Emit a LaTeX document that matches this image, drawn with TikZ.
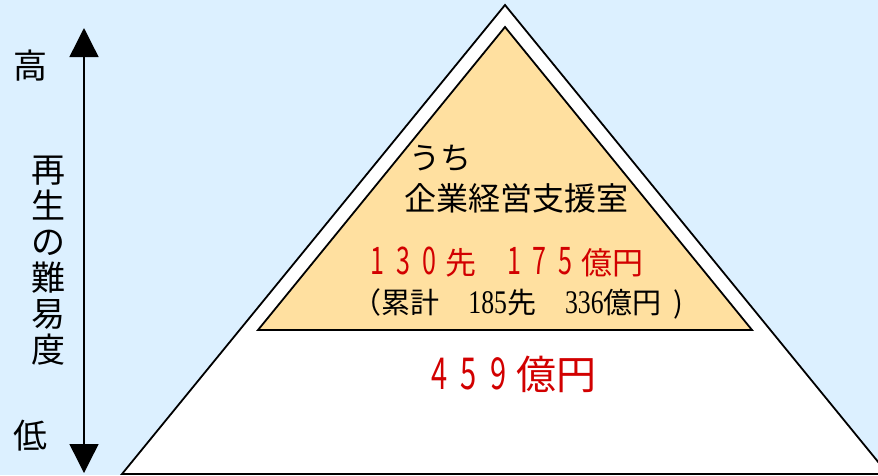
\documentclass[tikz,border=0pt]{standalone}
\usepackage{fontspec}
\setmainfont{Noto Sans CJK JP}
\newfontfamily\numfont[FakeStretch=0.78]{Liberation Serif}
\newfontfamily\tallfont[FakeStretch=0.66]{Noto Sans CJK JP}
\usepackage{tikz}
\usetikzlibrary{arrows.meta}
\definecolor{skyback}{RGB}{220,240,255}
\definecolor{peach}{RGB}{255,224,160}
\definecolor{amountred}{RGB}{210,0,0}
\newcommand{\tdig}[2]{{\tallfont\fontsize{#1}{#1}\selectfont #2}}

\begin{document}
\begin{tikzpicture}[x=1pt,y=-1pt]
\tikzstyle{edge}=[draw=black,line width=1.8pt,line join=miter]
\tikzstyle{every node}=[inner sep=0pt,anchor=center]
\tikzstyle{redtext}=[text=amountred]
\tikzstyle{bigtip}=[line width=1.4pt,{Triangle[width=29pt,length=29pt]}-{Triangle[width=29pt,length=29pt]}]
\useasboundingbox (0,0) rectangle (878,475);
\fill[skyback] (0,0) rectangle (878,475);
\begin{scope}
\clip (0,0) rectangle (878,475);
\coordinate (top) at (505,5);
\coordinate (bl) at (122,474);
\coordinate (br) at (888,474);
\filldraw[edge,fill=white] (top) -- (br) -- (bl) -- cycle;
\end{scope}
\coordinate (itop) at (505,27);
\coordinate (ibl) at (258,330);
\coordinate (ibr) at (752,330);
\filldraw[edge,fill=peach] (itop) -- (ibr) -- (ibl) -- cycle;
\coordinate (hi) at (84,28);
\coordinate (lo) at (84,473);
\draw[bigtip] (hi) -- (lo);
\node[font=\fontsize{34}{36}\selectfont] (high) at (30,66) {高};
\node[font=\fontsize{34}{36}\selectfont] (low) at (30,436) {低};
\node[font=\fontsize{34}{36}\selectfont,align=center] (scale) at (48,261) {再\\生\\の\\難\\易\\度};
\node[font=\fontsize{31}{31}\selectfont] (uchi) at (440,158) {うち};
\node[font=\fontsize{32}{32}\selectfont] (dept) at (516,198) {企業経営支援室};
\node[redtext,font=\fontsize{31}{31}\selectfont] (year) at (507,262) {\tdig{38}{1}\hspace{12pt}\tdig{38}{3}\hspace{12pt}\tdig{38}{0}\hspace{9pt}先　\tdig{38}{1}\hspace{12pt}\tdig{38}{7}\hspace{12pt}\tdig{38}{5}\hspace{9pt}億円};
\node[font=\fontsize{29}{29}\selectfont] (total) at (518,304) {（累計　{\numfont\fontsize{33}{33}\selectfont 185}先　{\numfont\fontsize{33}{33}\selectfont 336}億円\hspace{12pt})};
\node[redtext,font=\fontsize{40}{40}\selectfont] (sum) at (514,374) {\tdig{44}{4}\hspace{13pt}\tdig{44}{5}\hspace{13pt}\tdig{44}{9}\hspace{10pt}億円};
\end{tikzpicture}
\end{document}
